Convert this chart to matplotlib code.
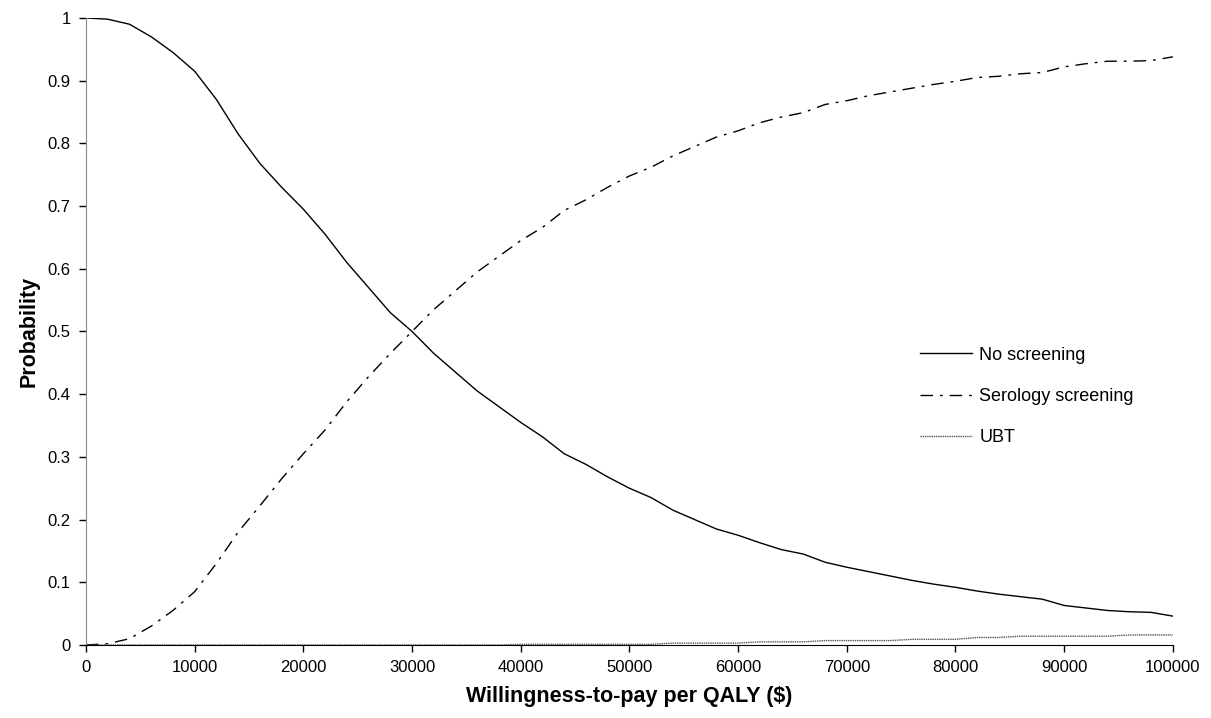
import numpy as np
import matplotlib.pyplot as plt

plt.rcParams['font.family'] = ['Liberation Sans', 'DejaVu Sans']

# willingness-to-pay grid ($ per QALY)
wtp = list(range(0, 100001, 2000))

no_screening = [1.000, 0.998, 0.990, 0.970, 0.945, 0.915, 0.870, 0.815, 0.768, 0.730,
                0.695, 0.655, 0.610, 0.570, 0.530, 0.500, 0.465, 0.435, 0.405, 0.380,
                0.355, 0.332, 0.305, 0.288, 0.268, 0.250, 0.235, 0.215, 0.200, 0.185,
                0.175, 0.163, 0.152, 0.145, 0.132, 0.124, 0.117, 0.110, 0.103, 0.097,
                0.092, 0.086, 0.081, 0.077, 0.073, 0.063, 0.059, 0.055, 0.053, 0.052,
                0.046]

serology = [0.000, 0.002, 0.010, 0.030, 0.055, 0.085, 0.130, 0.180, 0.222, 0.265,
            0.305, 0.343, 0.388, 0.428, 0.465, 0.500, 0.535, 0.565, 0.595, 0.620,
            0.645, 0.666, 0.693, 0.710, 0.730, 0.748, 0.762, 0.780, 0.795, 0.810,
            0.820, 0.833, 0.842, 0.849, 0.862, 0.868, 0.876, 0.882, 0.888, 0.894,
            0.899, 0.905, 0.907, 0.911, 0.913, 0.922, 0.927, 0.931, 0.931, 0.932,
            0.938]

ubt = [0.0] * 20 + [0.001] * 7 + [0.003] * 4 + [0.005] * 3 + [0.007] * 4 + \
      [0.009] * 3 + [0.012] * 2 + [0.014] * 5 + [0.016] * 3

fig = plt.figure(figsize=(12.11, 7.18), dpi=100)
ax = fig.add_axes([0.071, 0.1017, 0.8975, 0.8733])

ax.plot(wtp, no_screening, color='black', lw=1.0, label='No screening')
ax.plot(wtp, serology, color='black', lw=1.0, linestyle=(0, (9, 5, 2, 5)),
        label='Serology screening')
ax.plot(wtp, ubt, color='#555555', lw=1.0, linestyle=(0, (1, 0.6)), label='UBT')

ax.set_xlim(0, 100000)
ax.set_ylim(0, 1)
ax.set_xticks(np.arange(0, 100001, 10000))
ax.set_yticks(np.arange(0, 1.01, 0.1))
ax.set_yticklabels(['0', '0.1', '0.2', '0.3', '0.4', '0.5', '0.6', '0.7', '0.8', '0.9', '1'])
ax.tick_params(labelsize=12, length=5, width=1, direction='out', pad=6)

for s in ['top', 'right']:
    ax.spines[s].set_visible(False)
ax.spines['left'].set_color('#888888')
ax.spines['bottom'].set_color('black')

ax.set_xlabel('Willingness-to-pay per QALY ($)', fontsize=15.5, fontweight='bold', labelpad=8)
ax.set_ylabel('Probability', fontsize=15.5, fontweight='bold', labelpad=6)

ax.legend(loc='upper left', bbox_to_anchor=(0.746, 0.54), bbox_transform=fig.transFigure,
          frameon=False, fontsize=13, handlelength=2.9, handletextpad=0.4,
          labelspacing=1.35)

fig.savefig('out.png', dpi=100)
